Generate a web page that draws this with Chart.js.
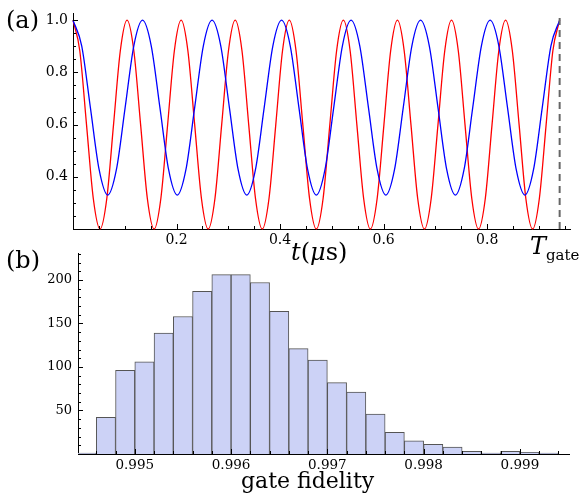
<!DOCTYPE html>
<html>
<head>
<meta charset="utf-8">
<script src="https://cdn.jsdelivr.net/npm/chart.js@4.4.1/dist/chart.umd.min.js"></script>
<style>
  body { margin: 0; background: #fff; }
  #wrap { position: relative; width: 586px; height: 495px; overflow: hidden; font-family: "DejaVu Serif", serif; color: #000; }
  canvas { position: absolute; left: 0; }
  .lbl { position: absolute; white-space: nowrap; line-height: 1; }
</style>
</head>
<body>
<div id="wrap">
  <canvas id="panelA" width="586" height="262" style="top:0"></canvas>
  <canvas id="panelB" width="586" height="255" style="top:240px"></canvas>
  <div class="lbl" style="left:6px;top:8px;font-size:24px">(a)</div>
  <div class="lbl" style="left:6px;top:248px;font-size:24px">(b)</div>
  <div class="lbl" style="left:291px;top:240px;font-size:24px"><i>t</i>(<i>μ</i>s)</div>
  <div class="lbl" style="left:530px;top:234px;font-size:24px"><i>T</i><span style="font-size:15px;position:relative;top:6px">gate</span></div>
  <div class="lbl" style="left:241px;top:470px;font-size:22px">gate fidelity</div>
</div>
<script>
// panel (a): time in microseconds (peaks, troughs and 1/8-period points)
const T_GATE = 0.94;

const redT = [0, 0.0131, 0.0261, 0.0392, 0.0522, 0.0653, 0.0783, 0.0914, 0.1044, 0.1175, 0.1306,
  0.1436, 0.1567, 0.1697, 0.1828, 0.1958, 0.2089, 0.2219, 0.2350, 0.2481, 0.2611, 0.2742, 0.2872,
  0.3003, 0.3133, 0.3264, 0.3394, 0.3525, 0.3656, 0.3786, 0.3917, 0.4047, 0.4178, 0.4308, 0.4439,
  0.4569, 0.4700, 0.4831, 0.4961, 0.5092, 0.5222, 0.5353, 0.5483, 0.5614, 0.5744, 0.5875, 0.6006,
  0.6136, 0.6267, 0.6397, 0.6528, 0.6658, 0.6789, 0.6919, 0.7050, 0.7181, 0.7311, 0.7442, 0.7572,
  0.7703, 0.7833, 0.7964, 0.8094, 0.8225, 0.8356, 0.8486, 0.8617, 0.8747, 0.8878, 0.9008, 0.9139,
  0.9269, 0.9400];
const redY = [1.0, 0.883, 0.6, 0.317, 0.2, 0.317, 0.6, 0.883, 1.0, 0.883, 0.6, 0.317, 0.2, 0.317, 0.6, 0.883,
  1.0, 0.883, 0.6, 0.317, 0.2, 0.317, 0.6, 0.883, 1.0, 0.883, 0.6, 0.317, 0.2, 0.317, 0.6, 0.883,
  1.0, 0.883, 0.6, 0.317, 0.2, 0.317, 0.6, 0.883, 1.0, 0.883, 0.6, 0.317, 0.2, 0.317, 0.6, 0.883,
  1.0, 0.883, 0.6, 0.317, 0.2, 0.317, 0.6, 0.883, 1.0, 0.883, 0.6, 0.317, 0.2, 0.317, 0.6, 0.883,
  1.0, 0.883, 0.6, 0.317, 0.2, 0.317, 0.6, 0.883, 1.0];

const blueT = [0, 0.0168, 0.0336, 0.0504, 0.0671, 0.0839, 0.1007, 0.1175, 0.1343, 0.1511, 0.1679,
  0.1846, 0.2014, 0.2182, 0.2350, 0.2518, 0.2686, 0.2854, 0.3021, 0.3189, 0.3357, 0.3525, 0.3693,
  0.3861, 0.4029, 0.4196, 0.4364, 0.4532, 0.4700, 0.4868, 0.5036, 0.5204, 0.5371, 0.5539, 0.5707,
  0.5875, 0.6043, 0.6211, 0.6379, 0.6546, 0.6714, 0.6882, 0.7050, 0.7218, 0.7386, 0.7554, 0.7721,
  0.7889, 0.8057, 0.8225, 0.8393, 0.8561, 0.8729, 0.8896, 0.9064, 0.9232, 0.9400];
const blueY = [1.0, 0.902, 0.665, 0.428, 0.33, 0.428, 0.665, 0.902, 1.0, 0.902, 0.665, 0.428, 0.33, 0.428, 0.665, 0.902,
  1.0, 0.902, 0.665, 0.428, 0.33, 0.428, 0.665, 0.902, 1.0, 0.902, 0.665, 0.428, 0.33, 0.428, 0.665, 0.902,
  1.0, 0.902, 0.665, 0.428, 0.33, 0.428, 0.665, 0.902, 1.0, 0.902, 0.665, 0.428, 0.33, 0.428, 0.665, 0.902,
  1.0, 0.902, 0.665, 0.428, 0.33, 0.428, 0.665, 0.902, 1.0];

// panel (b): histogram bins (centres) and counts
const binCenters = [0.9945, 0.9947, 0.9949, 0.9951, 0.9953, 0.9955, 0.9957, 0.9959, 0.9961, 0.9963,
  0.9965, 0.9967, 0.9969, 0.9971, 0.9973, 0.9975, 0.9977, 0.9979, 0.9981, 0.9983,
  0.9985, 0.9987, 0.9989, 0.9991, 0.9993];
const counts = [1, 42, 96, 106, 139, 158, 187, 206, 206, 197,
  164, 121, 108, 82, 71, 46, 25, 15, 11, 8,
  3, 1, 3, 2, 1];

Chart.defaults.font.family = '"DejaVu Serif", serif';
Chart.defaults.color = '#000';
Chart.defaults.animation = false;

function isMult(v, step) {
    let r = v / step;
    return Math.abs(r - Math.round(r)) < 1e-6;
}

// mathematica style ticks pointing into the plot
const inwardTicks = {
    id: 'inwardTicks',
    afterDraw(chart) {
        const ctx = chart.ctx;
        const area = chart.chartArea;
        const xs = chart.scales.x, ys = chart.scales.y;
        ctx.save();
        ctx.strokeStyle = '#000';
        ctx.lineWidth = 1;
        xs.ticks.forEach(t => {
            const px = Math.round(xs.getPixelForValue(t.value)) + 0.5;
            const len = t.label ? 5 : 3;
            ctx.beginPath();
            ctx.moveTo(px, area.bottom);
            ctx.lineTo(px, area.bottom - len);
            ctx.stroke();
        });
        ys.ticks.forEach(t => {
            const py = Math.round(ys.getPixelForValue(t.value)) + 0.5;
            const len = t.label ? 5 : 3;
            ctx.beginPath();
            ctx.moveTo(area.left, py);
            ctx.lineTo(area.left + len, py);
            ctx.stroke();
        });
        ctx.restore();
    }
};

function pts(xs, ys) {
    return xs.map((x, i) => ({x: x, y: ys[i]}));
}

const yMaxA = 1.026;

new Chart(document.getElementById('panelA').getContext('2d'), {
    type: 'line',
    data: {
        datasets: [{
                data: [{x: T_GATE, y: 0.2}, {x: T_GATE, y: yMaxA}],
                borderColor: '#666',
                borderWidth: 2,
                borderDash: [7, 5],
                pointRadius: 0
            }, {
                data: pts(blueT, blueY),
                borderColor: 'rgb(0,0,255)',
                borderWidth: 1.3,
                pointRadius: 0,
                cubicInterpolationMode: 'monotone',
                clip: 4
            }, {
                data: pts(redT, redY),
                borderColor: 'rgb(255,0,0)',
                borderWidth: 1.3,
                pointRadius: 0,
                cubicInterpolationMode: 'monotone',
                clip: 4
            }]
    },
    options: {
        responsive: false,
        layout: {padding: {left: 0, top: 8, right: 16, bottom: 0}},
        plugins: {legend: {display: false}, tooltip: {enabled: false}},
        scales: {
            x: {
                type: 'linear', min: 0, max: 0.96,
                grid: {display: false, drawTicks: false},
                border: {display: true, color: '#000', width: 1},
                ticks: {
                    stepSize: 0.05, autoSkip: false, maxRotation: 0, includeBounds: false, padding: 3,
                    font: {size: 14},
                    callback: v => (isMult(v, 0.2) && v > 0.1) ? v.toFixed(1) : ''
                },
                afterFit: s => { s.height = 33; }
            },
            y: {
                min: 0.2, max: yMaxA,
                grid: {display: false, drawTicks: false},
                border: {display: true, color: '#000', width: 1},
                ticks: {
                    stepSize: 0.05, autoSkip: false, includeBounds: false, padding: 5,
                    font: {size: 14},
                    callback: v => (isMult(v, 0.2) && v > 0.3) ? v.toFixed(1) : ''
                },
                afterFit: s => { s.width = 73; }
            }
        }
    },
    plugins: [inwardTicks]
});

new Chart(document.getElementById('panelB').getContext('2d'), {
    type: 'bar',
    data: {
        datasets: [{
                data: pts(binCenters, counts),
                backgroundColor: 'rgb(204,210,246)',
                borderColor: '#555',
                borderWidth: 1,
                barPercentage: 1,
                categoryPercentage: 1
            }]
    },
    options: {
        responsive: false,
        layout: {padding: {left: 0, top: 6, right: 17, bottom: 0}},
        plugins: {legend: {display: false}, tooltip: {enabled: false}},
        scales: {
            x: {
                type: 'linear', min: 0.99441, max: 0.99951, offset: false,
                grid: {display: false, drawTicks: false},
                border: {display: true, color: '#000', width: 1},
                ticks: {
                    stepSize: 0.0002, autoSkip: false, maxRotation: 0, includeBounds: false, padding: 3,
                    font: {size: 13.5},
                    callback: v => isMult(v, 0.001) ? v.toFixed(3) : ''
                },
                afterFit: s => { s.height = 41; }
            },
            y: {
                min: 0, max: 230,
                grid: {display: false, drawTicks: false},
                border: {display: true, color: '#000', width: 1},
                ticks: {
                    stepSize: 10, autoSkip: false, includeBounds: false, padding: 6,
                    font: {size: 13},
                    callback: v => (isMult(v, 50) && v > 0) ? String(v) : ''
                },
                afterFit: s => { s.width = 78; }
            }
        }
    },
    plugins: [inwardTicks]
});
</script>
</body>
</html>
